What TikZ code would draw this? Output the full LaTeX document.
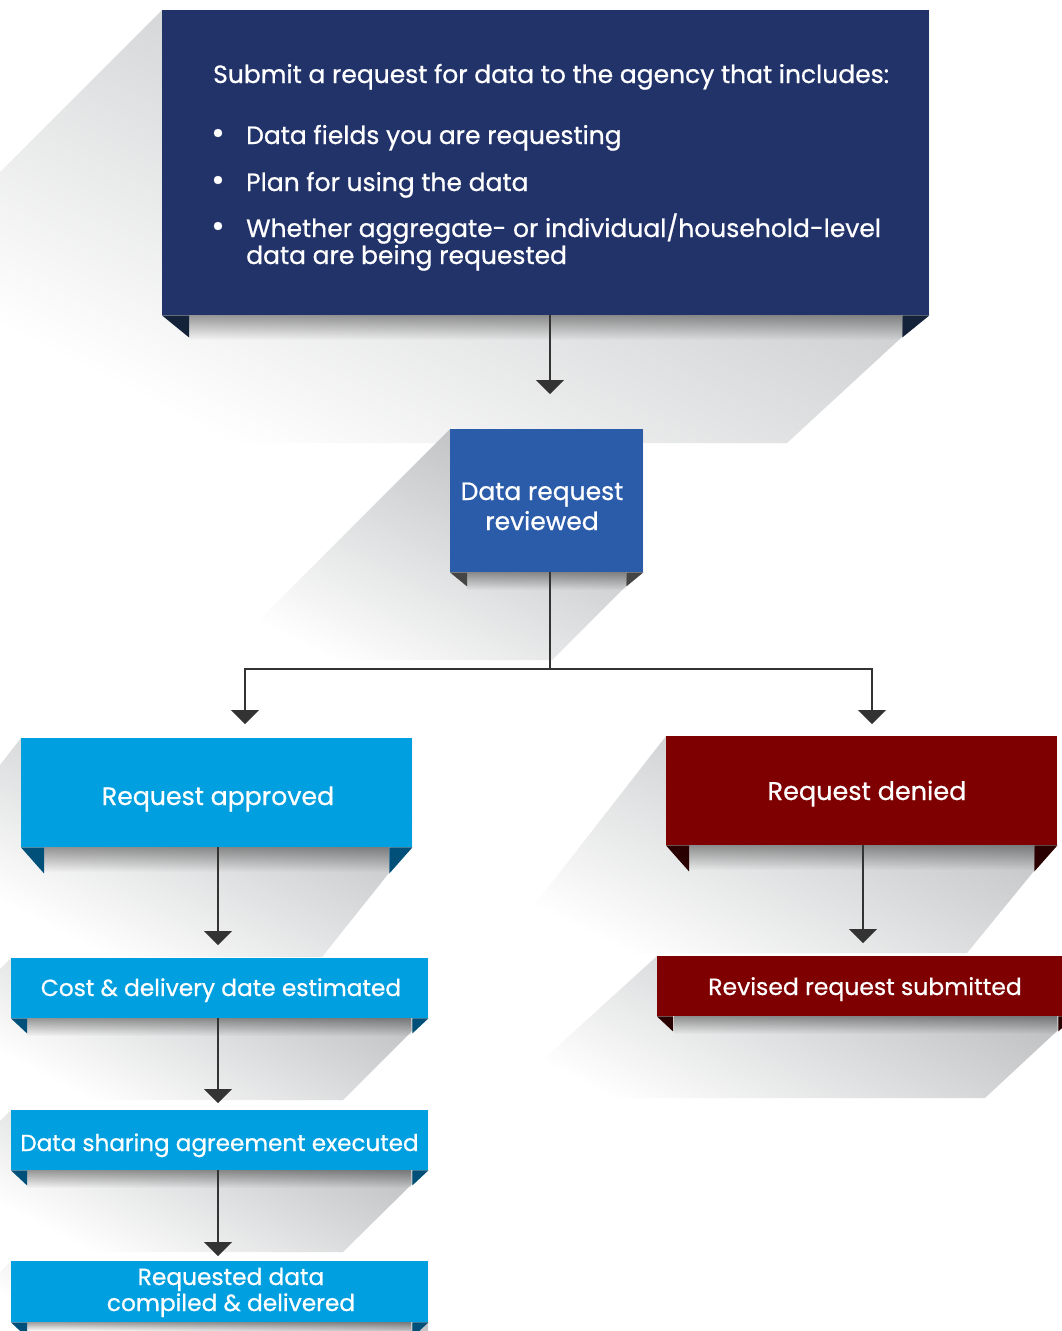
\documentclass[tikz,border=0pt]{standalone}
\usepackage{fontspec}
\setmainfont{Poppins}[FakeBold=0.7]
\usetikzlibrary{arrows.meta,fadings}
\definecolor{navy}{HTML}{22336A}
\definecolor{navyfold}{HTML}{15233A}
\definecolor{midblue}{HTML}{2B5CA9}
\definecolor{midfold}{HTML}{454545}
\definecolor{skyblue}{HTML}{009FE0}
\definecolor{skyfold}{HTML}{00507A}
\definecolor{darkred}{HTML}{7F0000}
\definecolor{redfold}{HTML}{2A0000}
\definecolor{shadowgray}{HTML}{B9BBBD}
\definecolor{shadowmid}{HTML}{E3E4E5}
\definecolor{linegray}{HTML}{333333}
\tikzfading[name=bandfade, top color=transparent!0, bottom color=transparent!100]
\newcommand\fsz[1]{\fontsize{#1}{30}\selectfont}
\begin{document}
\begin{tikzpicture}[x=1pt,y=-1pt,
  longshadow/.style={top color=shadowgray, middle color=shadowmid, bottom color=white, shading angle=-27},
  band/.style={fill=black, fill opacity=0.38, path fading=bandfade},
  box/.style={rectangle, inner sep=0pt, anchor=north west},
  lbl/.style={text=white, inner sep=0pt, anchor=base, align=center},
  txt/.style={text=white, inner sep=0pt, anchor=base west, font=\fsz{25}},
  flow/.style={draw=linegray, line width=1.4pt, -{Triangle[width=28pt,length=14pt]}},
  wire/.style={draw=linegray, line width=1.4pt}
]
\clip (0,0) rectangle (1062,1331);
\fill[white] (0,0) rectangle (1062,1331);

% long diagonal shadows behind every box
\shade[longshadow] (162,10) -- (0,172) -- (0,443) -- (787,443) -- (902,337) -- (929,315) -- (929,10) -- cycle;
\shade[longshadow] (450,429) -- (219,660) -- (552,660) -- (626,586) -- (643,572) -- (643,429) -- cycle;
\shade[longshadow] (21,738) -- (0,765) -- (0,957) -- (322,957) -- (389,873) -- (412,847) -- (412,738) -- cycle;
\shade[longshadow] (11,958) -- (0,969) -- (0,1100) -- (343,1100) -- (411,1032) -- (428,1018) -- (428,958) -- cycle;
\shade[longshadow] (11,1110) -- (0,1121) -- (0,1252) -- (343,1252) -- (411,1185) -- (428,1170) -- (428,1110) -- cycle;
\shade[longshadow] (11,1261) -- (0,1272) -- (0,1331) -- (428,1331) -- (428,1261) -- cycle;
\shade[longshadow] (666,736) -- (497,953) -- (967,953) -- (1034,871) -- (1057,845) -- (1057,736) -- cycle;
\shade[longshadow] (657,956) -- (501,1098) -- (985,1098) -- (1057,1031) -- (1074,1016) -- (1074,956) -- cycle;

% boxes
\node[box, fill=navy, minimum width=767pt, minimum height=305pt] (b1) at (162,10) {};
\node[box, fill=midblue, minimum width=193pt, minimum height=143pt] (b2) at (450,429) {};
\node[box, fill=skyblue, minimum width=391pt, minimum height=109pt] (b3) at (21,738) {};
\node[box, fill=skyblue, minimum width=417pt, minimum height=60pt] (b4) at (11,958) {};
\node[box, fill=skyblue, minimum width=417pt, minimum height=60pt] (b5) at (11,1110) {};
\node[box, fill=skyblue, minimum width=417pt, minimum height=61pt] (b6) at (11,1261) {};
\node[box, fill=darkred, minimum width=391pt, minimum height=109pt] (b7) at (666,736) {};
\node[box, fill=darkred, minimum width=417pt, minimum height=60pt] (b8) at (657,956) {};

% soft band under each box, between the folds
\fill[band] (189,315) rectangle (902,340);
\fill[band] (467,572) rectangle (626,590);
\fill[band] (44,847) rectangle (389,872);
\fill[band] (27,1018) rectangle (411,1036);
\fill[band] (27,1170) rectangle (411,1188);
\fill[band] (27,1322) rectangle (411,1331);
\fill[band] (689,845) rectangle (1034,870);
\fill[band] (674,1016) rectangle (1057,1034);

% folded corners
\foreach \b/\w/\h/\c in {b1/27/22/navyfold, b2/17/14/midfold, b3/23/26/skyfold, b4/16/15/skyfold,
                          b5/16/15/skyfold, b6/16/15/skyfold, b7/23/26/redfold, b8/16/15/redfold}{
  \fill[\c] (\b.south west) -- ++(\w,0) -- ++(0,\h) -- cycle;
  \fill[\c] (\b.south east) -- ++(-\w,0) -- ++(0,\h) -- cycle;
}

% text of the first box
\node[txt] (t0) at (213,83) {Submit a request for data to the agency that includes:};
\node[txt, anchor=base, font=\fsz{33}] (d1) at (218,144) {\textbullet};
\node[txt] (t1) at (246,144) {Data fields you are requesting};
\node[txt, anchor=base, font=\fsz{33}] (d2) at (218,191) {\textbullet};
\node[txt] (t2) at (246,191) {Plan for using the data};
\node[txt, anchor=base, font=\fsz{33}] (d3) at (218,237) {\textbullet};
\node[txt] (t3) at (246,237) {Whether aggregate- or individual/household-level};
\node[txt] (t4) at (246,264) {data are being requested};

% labels of the other boxes (two-line labels sit on their last baseline)
\node[lbl, font=\fontsize{25}{30}\selectfont] (t2b) at (542,530) {Data request\\reviewed};
\node[lbl, font=\fsz{25.2}] (t3b) at (218,805) {Request approved};
\node[lbl, font=\fsz{23.3}] (t4b) at (221,996) {Cost \& delivery date estimated};
\node[lbl, font=\fsz{23.1}] (t5b) at (219.5,1151) {Data sharing agreement executed};
\node[lbl, font=\fontsize{23.3}{26}\selectfont] (t6b) at (231,1311) {Requested data\\compiled \& delivered};
\node[lbl, font=\fsz{25.5}] (t7b) at (867,800) {Request denied};
\node[lbl, font=\fsz{23.5}] (t8b) at (865,995) {Revised request submitted};

% connectors
\coordinate (a1) at (550,394);
\coordinate (j) at (550,669);
\coordinate (aL) at (245,724);
\coordinate (aR) at (872,724);
\coordinate (a3) at (218,945);
\coordinate (a4) at (218,1103);
\coordinate (a5) at (218,1256);
\coordinate (a7) at (863,943);

\draw[flow] (b1.south -| a1) -- (a1);
\draw[wire] (b2.south -| j) -- (j);
\draw[flow] (j) -| (aL);
\draw[flow] (j) -| (aR);
\draw[flow] (b3.south -| a3) -- (a3);
\draw[flow] (b4.south -| a4) -- (a4);
\draw[flow] (b5.south -| a5) -- (a5);
\draw[flow] (b7.south -| a7) -- (a7);
\end{tikzpicture}
\end{document}
